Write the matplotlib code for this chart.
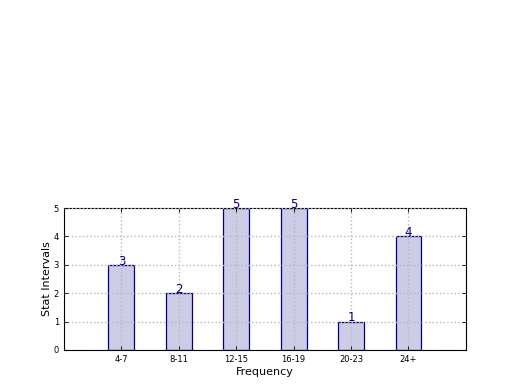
import numpy as np
from matplotlib import pyplot as plt

# 데이터
intervals = ['4-7', '8-11', '12-15', '16-19', '20-23', '24+']
counts = [3, 2, 5, 5, 1, 4]

fig = plt.figure(figsize=(5.2, 3.9), dpi=100)
ax = fig.add_axes([0.123, 0.1026, 0.773, 0.364])

x = np.arange(len(intervals))
bars = ax.bar(x, counts, width=0.45, color=(0.8, 0.8, 0.9), edgecolor='navy',
              linewidth=0.9, zorder=2)

# 막대 위 숫자
for xi, c in zip(x, counts):
    ax.text(xi, c - 0.1, str(c), ha='center', va='bottom', color='navy', fontsize=8.5)

ax.set_xlim(-1, 6)
ax.set_ylim(0, 5)
ax.set_xticks(x)
ax.set_xticklabels(intervals, fontsize=6)
ax.set_yticks(range(6))
ax.tick_params(axis='y', labelsize=6)
ax.tick_params(direction='in', top=True, right=True, length=3, width=0.6)
ax.grid(True, linestyle=':', color='0.72', linewidth=1.0, zorder=3)
ax.set_axisbelow(False)

ax.set_xlabel('Frequency', fontsize=8, labelpad=2)
ax.set_ylabel('Stat Intervals', fontsize=8, labelpad=1)

fig.savefig('out.png', dpi=100)
